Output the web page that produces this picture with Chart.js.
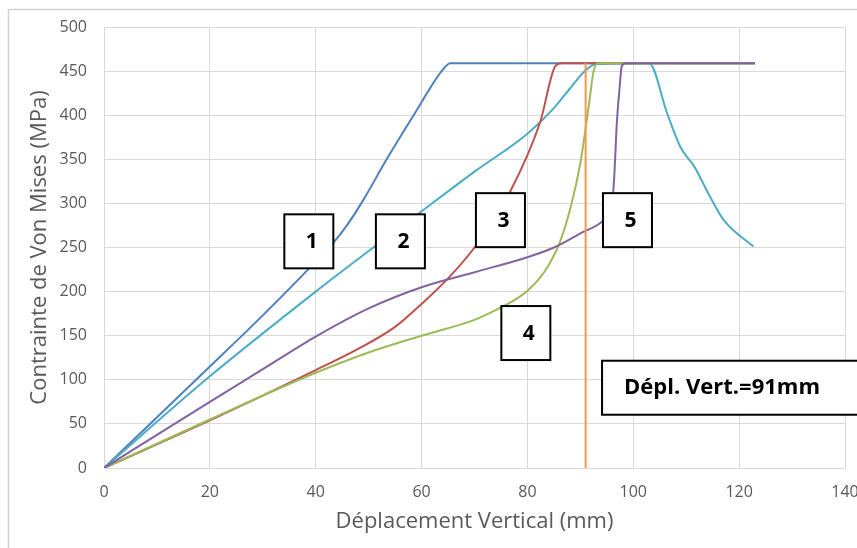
<!DOCTYPE html>
<html><head><meta charset="utf-8">
<script src="https://cdn.jsdelivr.net/npm/chart.js@4/dist/chart.umd.min.js"></script>
<style>html,body{margin:0;padding:0;background:#fff;overflow:hidden}</style>
</head><body>
<canvas id="c" width="857" height="548"></canvas>
<script>
// ---- data ----
const xTickValues = [0, 20, 40, 60, 80, 100, 120, 140];
const yTickValues = [0, 50, 100, 150, 200, 250, 300, 350, 400, 450, 500];

const c1x = [0, 20, 30, 40, 43, 46, 49, 53.4, 58.5, 63.8, 65.4, 123];
const c1y = [0, 115, 173, 234, 253, 276, 304, 350, 400, 450, 459, 459];

const c2x = [0, 20, 40, 50, 60, 70, 80, 85, 88, 91, 93, 103, 106.4, 108.9, 111.7, 114.2, 117.1, 122.7];
const c2y = [0, 104, 200, 246, 291, 336, 379, 408, 430, 451, 458, 459, 402, 364, 340, 311, 281, 251];

const c3x = [0, 20, 40, 48, 55, 60, 65, 70, 76.7, 82.4, 85.3, 86.5, 123];
const c3y = [0, 54, 111, 135, 160, 186, 215, 250, 313, 392, 456, 459, 459];

const c4x = [0, 20, 40, 50, 60, 70, 74, 78, 80, 82, 84, 86, 88, 90, 91.6, 92.5, 93.3, 123];
const c4y = [0, 55, 108, 131, 150, 168, 179, 192, 201, 213, 230, 254, 292, 346, 411, 450, 459, 459];

const c5x = [0, 20, 30, 40, 50, 60, 70, 80, 85, 90, 94, 96, 96.4, 96.9, 97.4, 97.8, 98.5, 123];
const c5y = [0, 75, 112, 149, 181, 205, 222, 239, 250, 266, 279, 300, 330, 392, 430, 455, 459, 459];

const markerX = [91, 91];
const markerY = [0, 459];

const boxTexts = ['1', '2', '3', '4', '5'];
const boxX = [38.7, 56.0, 74.9, 79.7, 98.9];
const boxY = [257, 257, 281, 153, 281];
const noteText = 'Dépl. Vert.=91mm';
const noteX = 94.1;
const noteY = 91;

// ---- build ----
const pts = (xs, ys) => xs.map((x, i) => ({x: x, y: ys[i]}));
const FONT = '"Open Sans", sans-serif';
const GRID = '#D9D9D9';
const TXT = '#595959';

function ds(label, xs, ys, color, order, mono) {
  return {
    label, data: pts(xs, ys), borderColor: color, backgroundColor: color,
    borderWidth: 2, pointRadius: 0, fill: false, order,
    cubicInterpolationMode: mono ? 'monotone' : 'default', tension: 0
  };
}

const boxPlugin = {
  id: 'boxes',
  beforeDraw(chart) {
    const ctx = chart.ctx;
    ctx.save();
    ctx.strokeStyle = '#D0D0D0';
    ctx.lineWidth = 1.5;
    ctx.strokeRect(8.5, 9.5, 900, 600);
    ctx.restore();
  },
  afterDatasetsDraw(chart) {
    const ctx = chart.ctx;
    const xs = chart.scales.x, ys = chart.scales.y;
    ctx.save();
    ctx.lineWidth = 2;
    ctx.strokeStyle = '#000';
    ctx.font = 'bold 21px ' + FONT;
    ctx.textAlign = 'center';
    ctx.textBaseline = 'middle';
    boxTexts.forEach((t, i) => {
      const cx = xs.getPixelForValue(boxX[i]);
      const cy = ys.getPixelForValue(boxY[i]);
      const w = 49, h = 54;
      ctx.fillStyle = '#fff';
      ctx.fillRect(cx - w / 2, cy - h / 2, w, h);
      ctx.strokeRect(cx - w / 2, cy - h / 2, w, h);
      ctx.fillStyle = '#000';
      ctx.fillText(t, cx + 3, cy + 1);
    });
    const lx = xs.getPixelForValue(noteX);
    const cy = ys.getPixelForValue(noteY);
    ctx.fillStyle = '#fff';
    ctx.fillRect(lx, cy - 27, 270, 54);
    ctx.strokeRect(lx, cy - 27, 270, 54);
    ctx.fillStyle = '#000';
    ctx.textAlign = 'left';
    ctx.font = 'bold 22px ' + FONT;
    ctx.fillText(noteText, lx + 22, cy);
    ctx.restore();
  }
};

new Chart(document.getElementById('c'), {
  type: 'line',
  data: {
    datasets: [
      ds('1', c1x, c1y, '#4F81BD', 6, true),
      ds('2', c2x, c2y, '#4BACC6', 5, true),
      ds('3', c3x, c3y, '#C0504D', 4, true),
      ds('4', c4x, c4y, '#9BBB59', 3, true),
      ds('5', c5x, c5y, '#8064A2', 2, true),
      ds('Dépl.', markerX, markerY, '#F79646', 1, false)
    ]
  },
  options: {
    responsive: false,
    animation: false,
    devicePixelRatio: 1,
    layout: {padding: {top: 27, right: 12, left: 0, bottom: 0}},
    plugins: {legend: {display: false}, tooltip: {enabled: false}},
    scales: {
      x: {
        type: 'linear', min: 0, max: 140,
        afterBuildTicks(s) { s.ticks = xTickValues.map(v => ({value: v})); },
        afterFit(s) { s.height = 80; s.paddingLeft = 0; s.paddingRight = 0; },
        grid: {color: GRID, drawTicks: false, lineWidth: 1},
        border: {display: true, color: GRID},
        ticks: {padding: 15, color: TXT, font: {family: FONT, size: 16}, maxRotation: 0},
        title: {display: true, text: 'Déplacement Vertical (mm)', color: TXT,
                font: {family: FONT, size: 22}, padding: {top: 0, bottom: 13}}
      },
      y: {
        type: 'linear', min: 0, max: 500,
        afterBuildTicks(s) { s.ticks = yTickValues.map(v => ({value: v})); },
        afterFit(s) { s.width = 104; s.paddingTop = 0; s.paddingBottom = 0; },
        grid: {color: GRID, drawTicks: false, lineWidth: 1},
        border: {display: true, color: GRID},
        ticks: {padding: 17, color: TXT, font: {family: FONT, size: 16}},
        title: {display: true, text: 'Contrainte de Von Mises (MPa)', color: TXT,
                font: {family: FONT, size: 22}, padding: {top: 27, bottom: 0}}
      }
    }
  },
  plugins: [boxPlugin]
});
</script>
</body></html>
